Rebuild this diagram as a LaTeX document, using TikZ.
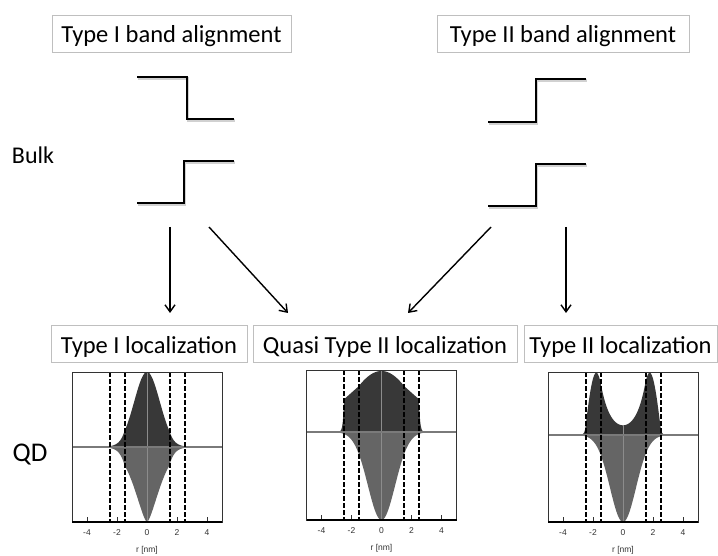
\documentclass[tikz,border=0pt]{standalone}
\usepackage{fontspec}
\setmainfont{Carlito}
\newfontfamily\axisfont{Liberation Sans}
\usetikzlibrary{arrows.meta}
\definecolor{boxgray}{HTML}{BFBFBF}
\definecolor{updark}{HTML}{383838}
\definecolor{lomid}{HTML}{656565}
\definecolor{zerogray}{HTML}{7A7A7A}
\definecolor{centergray}{HTML}{8C8C8C}
\definecolor{ticktext}{HTML}{333333}

\newcommand\qdpanel[7]{%
  \fill[updark] ({#1-75},#2) -- plot[domain=-5:5,samples=241] ({#1+15*\x},{#2-#5(\x)}) -- ({#1+75},#2) -- cycle;
  \fill[lomid] ({#1-75},#2) -- plot[domain=-5:5,samples=241] ({#1+15*\x},{#2+#6(\x)}) -- ({#1+75},#2) -- cycle;
  \draw[centerline] (#1,{#2-#5(0)}) -- (#1,{#2+#6(0)});
  \draw[zeroline] ({#1-75},#2) -- ({#1+75},#2);
  \foreach \d in {-2.5,-1.5,1.5,2.5} \draw[qdash] ({#1+15*\d},#3) -- ({#1+15*\d},#4);
  \foreach \t in {-4,-2,2,4} \draw[tickline] ({#1+15*\t},#4) -- ({#1+15*\t},{#4-5.5});
  \node[plotframe] (#7) at (#1,{(#3+#4)/2}) {};
  \draw[axisbottom] ({#1-75},#4) -- ({#1+75},#4);
  \foreach \t in {-4,-2,0,2,4} \node[ticklabel] (#7t\t) at ({#1+15*\t},{#4+10.5}) {\t};
  \node[axislabel] (#7r) at (#1,{#4+28.5}) {r [nm]};
}

\begin{document}
\begin{tikzpicture}[x=1pt,y=-1pt,
  declare function={
    upa(\r)=(abs(\r)<=1.5)?75*exp(-((\r)*(\r))/1.45):15.9*exp(-max(abs(\r)-1.5,0)/0.33);
    loa(\r)=(abs(\r)<=1.5)?75*exp(-abs(\r)*sqrt(abs(\r))/1.3):18.3*exp(-max(abs(\r)-1.5,0)/0.33);
    upb(\r)=(abs(\r)<=1.5)?61*cos(27.33*(\r)):((abs(\r)<=2.5)?(46-13.3*(abs(\r)-1.5)):32.7*exp(-max(abs(\r)-2.5,0)/0.07));
    lob(\r)=88*exp(-((\r)*(\r))/1.65);
    upc(\r)=(abs(\r)<=1.5)?9.7*(exp(1.587*min(abs(\r),1.5))+exp(-1.587*min(abs(\r),1.5)))/2:((abs(\r)<=2.5)?62.3*cos(114.6*(abs(\r)-1.78)):8.1*exp(-max(abs(\r)-2.5,0)/0.08));
    loc(\r)=87*exp(-((\r)*(\r))/1.5);
  },
  titlebox/.style={draw=boxgray, line width=0.8pt, inner sep=0pt, minimum height=37pt,
    font=\fontsize{24.5}{29}\selectfont, text height=24pt, text depth=5pt},
  sidelabel/.style={inner sep=0pt, font=\fontsize{24}{29}\selectfont},
  stepline/.style={line width=2.3pt, line join=miter},
  stepshadow/.style={line width=2.6pt, draw=black!18, line join=miter},
  arrowline/.style={line width=1.4pt, -{Straight Barb[length=7pt,width=10pt,line width=1.4pt]}},
  centerline/.style={draw=centergray, line width=0.8pt},
  zeroline/.style={draw=zerogray, line width=1.1pt},
  qdash/.style={draw=black, line width=2pt, dash pattern=on 4.5pt off 2.5pt},
  tickline/.style={draw=ticktext, line width=0.7pt},
  plotframe/.style={draw=black!80, line width=0.8pt, minimum width=150pt, minimum height=150pt, inner sep=0pt},
  axisbottom/.style={draw=black, line width=1.3pt},
  ticklabel/.style={inner sep=0pt, text=ticktext, font=\axisfont\fontsize{8.5}{10}\selectfont},
  axislabel/.style={inner sep=0pt, text=ticktext, font=\axisfont\fontsize{8.5}{10}\selectfont},
]
\fill[white] (0,0) rectangle (718,556);
\useasboundingbox (0,0) rectangle (718,556);

% title boxes
\node[titlebox, minimum width=239pt] (t1) at (171.5,33.5) {Type I band alignment};
\node[titlebox, minimum width=252pt] (t2) at (563,33.5) {Type II band alignment};
\node[titlebox, minimum width=196pt] (l1) at (149,344) {Type I localization};
\node[titlebox, minimum width=264pt] (l2) at (385,344) {Quasi Type II localization};
\node[titlebox, minimum width=193pt] (l3) at (620.5,344) {Type II localization};

% side labels
\node[sidelabel] (bulk) at (33,155) {Bulk};
\node[sidelabel, font=\fontsize{27}{32}\selectfont] (qd) at (30,455) {QD};

% band steps (shadow then line)
\begin{scope}[shift={(0.8,1.6)}]
\draw[stepshadow] (137,77) -- (187,77) -- (187,119) -- (234,119);
\draw[stepshadow] (137,203) -- (184,203) -- (184,161) -- (234,161);
\draw[stepshadow] (488,122) -- (536,122) -- (536,79) -- (586,79);
\draw[stepshadow] (488,206) -- (536,206) -- (536,164) -- (586,164);
\end{scope}
\draw[stepline] (137,77) -- (187,77) -- (187,119) -- (234,119);
\draw[stepline] (137,203) -- (184,203) -- (184,161) -- (234,161);
\draw[stepline] (488,122) -- (536,122) -- (536,79) -- (586,79);
\draw[stepline] (488,206) -- (536,206) -- (536,164) -- (586,164);

% arrows
\coordinate (a1s) at (170,227); \coordinate (a1e) at (170,313);
\coordinate (a2s) at (209,227); \coordinate (a2e) at (288,313);
\coordinate (a3s) at (491,227); \coordinate (a3e) at (408,313);
\coordinate (a4s) at (566,227); \coordinate (a4e) at (566,313);
\draw[arrowline] (a1s) -- (a1e);
\draw[arrowline] (a2s) -- (a2e);
\draw[arrowline] (a3s) -- (a3e);
\draw[arrowline] (a4s) -- (a4e);

% plots
\qdpanel{147}{447}{372}{522}{upa}{loa}{pa}
\qdpanel{381.5}{432}{370}{520}{upb}{lob}{pb}
\qdpanel{623}{435}{372}{522}{upc}{loc}{pc}
\end{tikzpicture}
\end{document}
